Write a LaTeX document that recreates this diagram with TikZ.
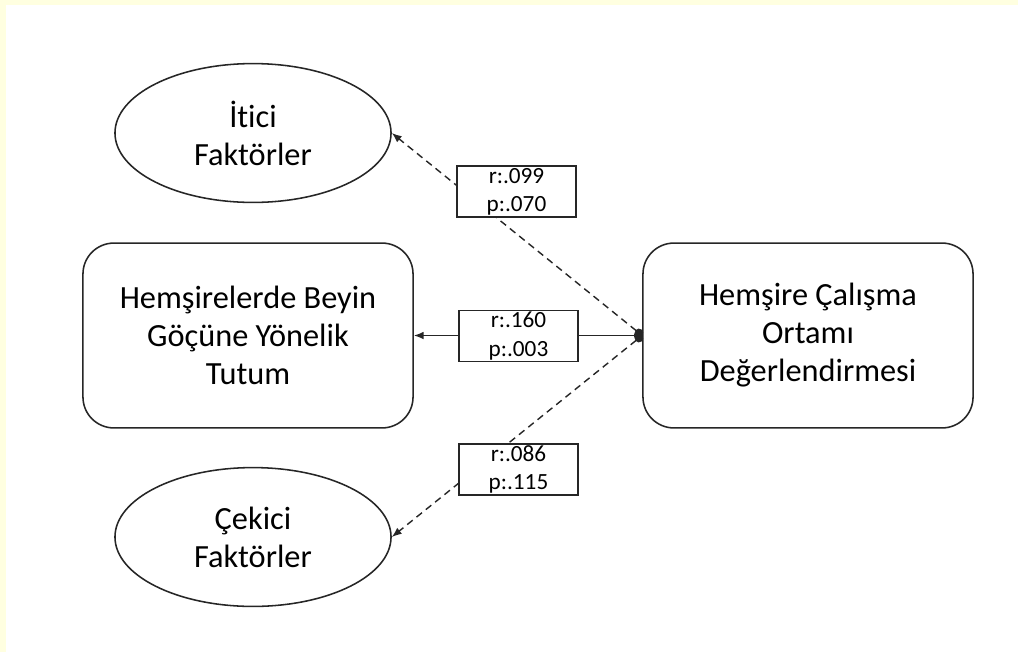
\documentclass[tikz,border=0pt]{standalone}
\usepackage{fontspec}
\setmainfont[Ligatures={NoCommon}]{Carlito}
\usepackage{xcolor}
\usepackage{tikz}
\usetikzlibrary{shapes.geometric}
\usetikzlibrary{arrows.meta}
\definecolor{kenar}{HTML}{FFFFE0}
\tikzset{oval/.style={draw=black!85, line width=1.1pt, ellipse, inner sep=0pt, minimum width=6.9cm, minimum height=3.47cm, align=center, font=\fontsize{23}{27}\selectfont}}
\tikzset{bigbox/.style={draw=black!85, line width=1.1pt, rounded corners=22pt, minimum width=8.25cm, minimum height=4.62cm, align=center, font=\fontsize{23}{27}\selectfont}}
\tikzset{statbox/.style={draw=black!85, line width=1pt, fill=white, inner sep=0pt, minimum width=2.97cm, minimum height=1.27cm, align=center, font=\fontsize{16.5}{20}\selectfont}}
\tikzset{dashline/.style={line width=1pt, black!85, dash pattern=on 5pt off 3.5pt}}

\begin{document}
\begin{tikzpicture}[x=0.025cm, y=-0.025cm]
    \useasboundingbox (0,0) rectangle (1018,652);
    \fill[kenar] (0,0) rectangle (1018,652);
    \fill[white] (6,5) rectangle (1018,652);

    \node[oval] at (253,133) (itici){İtici\\Faktörler};
    \node[oval] at (253,537) (cekici){Çekici\\Faktörler};
    \node[bigbox] at (248,335.5) (tutum){Hemşirelerde Beyin\\Göçüne Yönelik\\Tutum};
    \node[bigbox] at (808,335.5) (ortam){Hemşire Çalışma\\Ortamı\\Değerlendirmesi};

    \draw[dashline, {Circle[length=6pt]}-{Latex[length=7pt,width=5.5pt]}] (ortam.west) -- (itici.east);
    \draw[dashline, {Circle[length=6pt]}-{Latex[length=7pt,width=5.5pt]}] (ortam.west) -- (cekici.east);
    \draw[line width=1.1pt, black!85, {Circle[length=6pt]}-{Latex[length=7pt,width=5.5pt]}] (ortam.west) -- (tutum.east);

    \node[statbox] at (516.5,191.5) (s1){r:.099\\p:.070};
    \node[statbox] at (518.5,336) (s2){r:.160\\p:.003};
    \node[statbox] at (518.5,469.5) (s3){r:.086\\p:.115};
  \end{tikzpicture}
\end{document}
